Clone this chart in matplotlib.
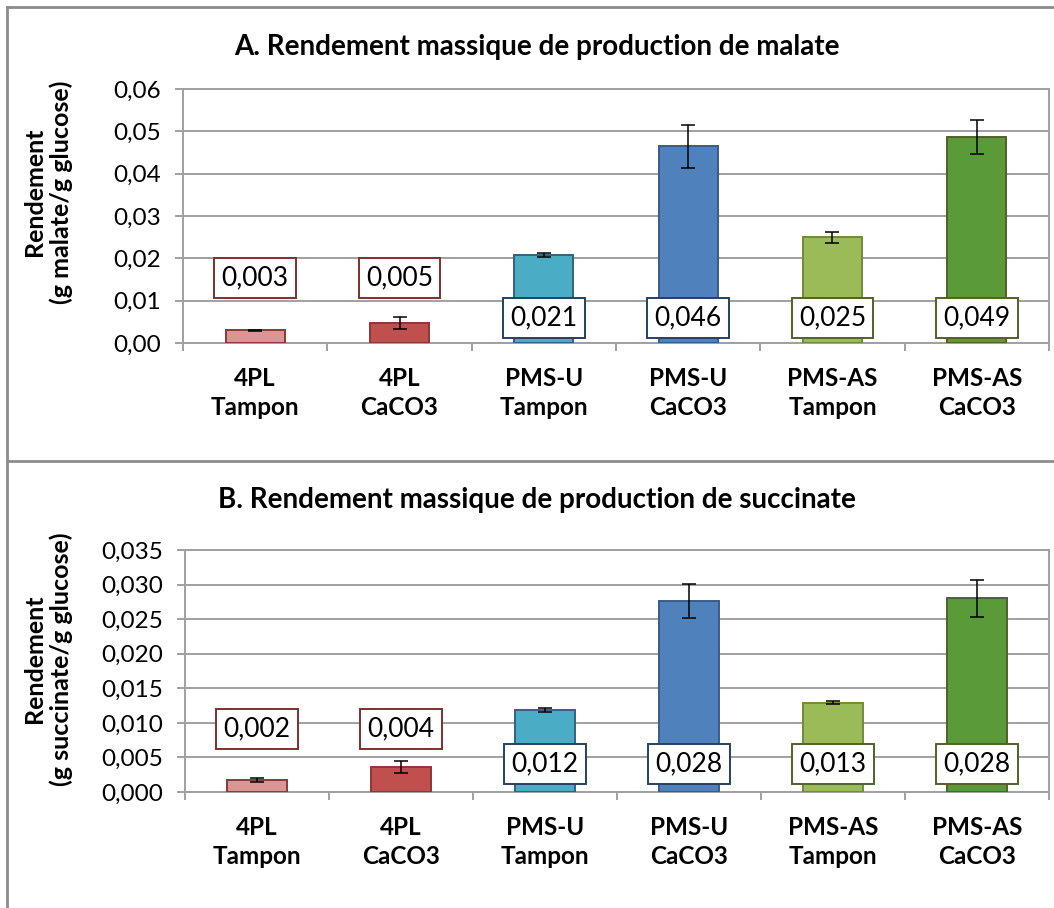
import matplotlib

matplotlib.use("Agg")
import matplotlib.pyplot as plt
from matplotlib.lines import Line2D
from matplotlib.ticker import FuncFormatter, FixedLocator

plt.rcParams["font.family"] = ["Lato", "DejaVu Sans"]

W, H = 1054, 908

categories = ["4PL\nTampon", "4PL\nCaCO3", "PMS-U\nTampon", "PMS-U\nCaCO3", "PMS-AS\nTampon", "PMS-AS\nCaCO3"]

malate = [0.0030, 0.0047, 0.0208, 0.0465, 0.0250, 0.0487]
malate_err = [0.0001, 0.0015, 0.0005, 0.0051, 0.0013, 0.0040]
malate_labels = ["0,003", "0,005", "0,021", "0,046", "0,025", "0,049"]

succinate = [0.0017, 0.0036, 0.0118, 0.0276, 0.0129, 0.0280]
succinate_err = [0.0003, 0.0009, 0.0003, 0.0025, 0.0002, 0.0027]
succinate_labels = ["0,002", "0,004", "0,012", "0,028", "0,013", "0,028"]

fills = ["#D99694", "#C0504D", "#4BACC6", "#4F81BD", "#9BBB59", "#5A9A38"]
edges = ["#8C3836", "#8C3836", "#35607F", "#385D8A", "#71893F", "#4F6228"]
box_edges = ["#7F2F2D", "#7F2F2D", "#254061", "#254061", "#4F6228", "#4F6228"]

GRID = "#A0A0A0"


def px_axes(left, top, right, bottom):
    return [left / W, 1 - bottom / H, (right - left) / W, (bottom - top) / H]


def draw_panel(fig, rect, values, errs, labels, ymax, step, fmt, low_y, high_y):
    ax = fig.add_axes(rect)
    x = list(range(len(values)))
    ax.bar(x, values, width=0.41, color=fills, edgecolor=edges, linewidth=1.4, zorder=3)
    ax.errorbar(x, values, yerr=errs, fmt="none", ecolor="black", elinewidth=1.1,
                capsize=4.8, capthick=1.1, zorder=4)
    ax.set_xlim(-0.5, len(values) - 0.5)
    ax.set_ylim(0, ymax)
    ticks = [i * step for i in range(int(round(ymax / step)) + 1)]
    ax.set_yticks(ticks)
    ax.yaxis.set_major_formatter(FuncFormatter(lambda v, p: fmt.format(v).replace(".", ",")))
    ax.yaxis.grid(True, color=GRID, linewidth=1.4, zorder=0)
    ax.set_axisbelow(True)
    for s in ax.spines.values():
        s.set_color(GRID)
        s.set_linewidth(1.4)
    ax.tick_params(axis="y", direction="out", length=6, width=1.4, color=GRID,
                   labelsize=17.5, pad=10)
    ax.set_xticks(x)
    ax.set_xticklabels(categories, fontsize=17.5, fontweight="bold", linespacing=1.35)
    ax.tick_params(axis="x", which="major", length=0, pad=17)
    ax.xaxis.set_minor_locator(FixedLocator([i - 0.5 for i in range(len(values) + 1)]))
    ax.tick_params(axis="x", which="minor", direction="out", length=6, width=1.4, color=GRID)
    for i, lab in enumerate(labels):
        yy = high_y if i < 2 else low_y
        ax.text(i, yy, lab, transform=ax.get_xaxis_transform(), ha="center", va="center",
                fontsize=19, zorder=5,
                bbox=dict(boxstyle="square,pad=0.28", facecolor="white",
                          edgecolor=box_edges[i], linewidth=1.4))
    return ax


fig = plt.figure(figsize=(W / 100, H / 100), dpi=100)

draw_panel(fig, px_axes(183, 89, 1049, 343), malate, malate_err, malate_labels,
           0.06, 0.01, "{:.2f}", 0.098, 0.256)
draw_panel(fig, px_axes(185, 550, 1049, 792), succinate, succinate_err, succinate_labels,
           0.035, 0.005, "{:.3f}", 0.116, 0.26)

fig.text(537 / W, 1 - 47 / H, "A. Rendement massique de production de malate",
         ha="center", va="center", fontsize=20, fontweight="bold")
fig.text(537 / W, 1 - 500 / H, "B. Rendement massique de production de succinate",
         ha="center", va="center", fontsize=20, fontweight="bold")
fig.text(48 / W, 1 - 192 / H, "Rendement\n(g malate/g glucose)", rotation=90,
         ha="center", va="center", fontsize=18, fontweight="bold", linespacing=1.15)
fig.text(48 / W, 1 - 659 / H, "Rendement\n(g succinate/g glucose)", rotation=90,
         ha="center", va="center", fontsize=18, fontweight="bold", linespacing=1.15)

# outer chart frames
frame = dict(color="#8C8C8C", linewidth=2.0, transform=fig.transFigure)
fig.add_artist(Line2D([7 / W, 1], [1 - 7 / H, 1 - 7 / H], **frame))
fig.add_artist(Line2D([7 / W, 7 / W], [0, 1 - 7 / H], **frame))
fig.add_artist(Line2D([7 / W, 1], [1 - 461 / H, 1 - 461 / H], **frame))

fig.savefig("out.png", dpi=100)
